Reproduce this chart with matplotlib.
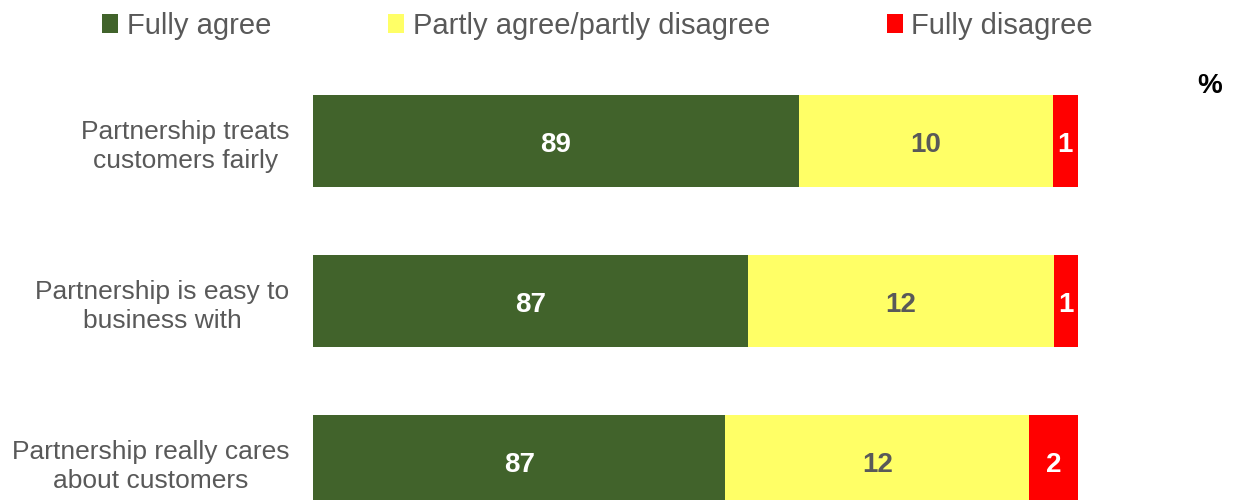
import matplotlib
matplotlib.use("Agg")
import matplotlib.pyplot as plt
from matplotlib.patches import Patch

plt.rcParams['font.family'] = ['Liberation Sans', 'DejaVu Sans']

categories = ["Partnership treats\ncustomers fairly",
              "Partnership is easy to\nbusiness with",
              "Partnership really cares\nabout customers"]
series_names = ["Fully agree", "Partly agree/partly disagree", "Fully disagree"]
# drawn segment lengths (share of full bar)
fully_agree = [63.5, 56.8, 53.9]
partly = [33.2, 40.0, 39.7]
fully_disagree = [3.3, 3.2, 6.4]
# printed value labels
label_agree = ["89", "87", "87"]
label_partly = ["10", "12", "12"]
label_disagree = ["1", "1", "2"]

colors = ["#41632B", "#FFFF66", "#FF0000"]
label_colors = ["white", "#595959", "white"]
gray = "#595959"

W, H = 1233, 500
fig = plt.figure(figsize=(W / 100, H / 100), dpi=100)
ax = fig.add_axes([313 / W, 0, 765 / W, 1])

unit = 160.0
top_c = 141.5
ax.set_ylim((H - top_c) / unit, -top_c / unit)
ax.set_xlim(0, 100)

ypos = list(range(len(categories)))
lefts = [0.0] * len(categories)
segs = [fully_agree, partly, fully_disagree]
labs = [label_agree, label_partly, label_disagree]
for s, (vals, lab) in enumerate(zip(segs, labs)):
    ax.barh(ypos, vals, left=lefts, height=0.575, color=colors[s],
            edgecolor='none', label=series_names[s])
    for i, v in enumerate(vals):
        ax.text(lefts[i] + v / 2, ypos[i] + 0.02, lab[i], ha='center', va='center',
                fontsize=20, fontweight='bold', color=label_colors[s])
    lefts = [l + v for l, v in zip(lefts, vals)]

ax.set_yticks(ypos)
ax.set_yticklabels(categories, fontsize=19, color=gray, linespacing=1.25,
                   multialignment='center')
ax.tick_params(axis='y', length=0, pad=17)
ax.tick_params(axis='x', length=0, labelbottom=False)
for sp in ax.spines.values():
    sp.set_visible(False)
ax.patch.set_alpha(0)

fig.text(1210 / W, 1 - 86 / H, "%", ha='center', va='center', fontsize=20,
         fontweight='bold', color='black')

handles = [Patch(facecolor=c, edgecolor='none') for c in colors]
fig.legend(handles, series_names, loc='center', bbox_to_anchor=(597.5 / W, 1 - 26 / H),
           ncol=3, frameon=False, fontsize=21, labelcolor=gray,
           handlelength=0.55, handleheight=0.6, handletextpad=0.3,
           columnspacing=4.0, borderpad=0, borderaxespad=0)

fig.savefig("out.png", dpi=100)
